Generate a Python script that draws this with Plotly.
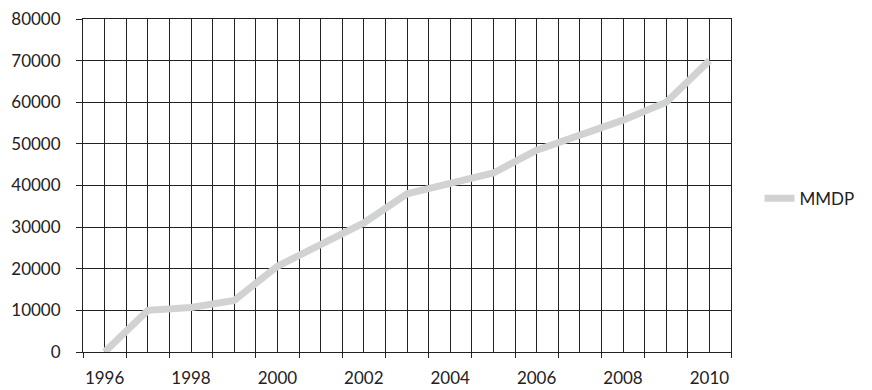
import plotly.graph_objects as go

# Annual series
years = [1996, 1997, 1998, 1999, 2000, 2001, 2002, 2003,
         2004, 2005, 2006, 2007, 2008, 2009, 2010]
mmdp = [0, 10000, 10700, 12400, 20600, 26000, 31000, 38000,
        40300, 43000, 48500, 52000, 55700, 60000, 70000]

label_years = [1996, 1998, 2000, 2002, 2004, 2006, 2008, 2010]
y_ticks = [0, 10000, 20000, 30000, 40000, 50000, 60000, 70000, 80000]

x_range = [1995.5, 2010.5]
ink = "#222222"
font = dict(family="Lato, 'Open Sans', sans-serif", size=17, color=ink)

fig = go.Figure()
fig.add_trace(go.Scatter(
    x=years, y=mmdp, mode="lines", name="MMDP",
    line=dict(color="#d1d2d4", width=7),
    xaxis="x", yaxis="y",
))
# helper trace that carries the tick/grid axis
fig.add_trace(go.Scatter(
    x=years, y=mmdp, mode="lines", showlegend=False,
    line=dict(color="rgba(0,0,0,0)", width=0), hoverinfo="skip",
    xaxis="x2", yaxis="y",
))

fig.update_layout(
    width=872, height=390,
    margin=dict(l=83, r=129, t=19, b=38),
    paper_bgcolor="white", plot_bgcolor="white",
    font=font,
    showlegend=True,
    legend=dict(x=1.044, xanchor="left", y=0.46, yanchor="middle",
                font=font, bgcolor="rgba(0,0,0,0)", borderwidth=0),
    xaxis=dict(
        range=x_range, tickmode="array", tickvals=label_years,
        ticktext=[str(v) for v in label_years],
        ticks="", showgrid=False, zeroline=False,
        showline=False, ticklabelstandoff=14, layer="above traces",
        automargin=False,
    ),
    xaxis2=dict(
        overlaying="x", anchor="y", side="bottom",
        range=x_range, tickmode="linear", tick0=1995.5, dtick=1,
        showticklabels=False, ticks="outside", ticklen=5, tickcolor=ink,
        tickwidth=1,
        showgrid=True, gridcolor=ink, gridwidth=1,
        minor=dict(tick0=1995.5, dtick=0.5, showgrid=True,
                   gridcolor=ink, gridwidth=1, ticks=""),
        showline=True, linecolor=ink, linewidth=1, mirror=True,
        zeroline=False, automargin=False,
    ),
    yaxis=dict(
        range=[0, 80000], tickmode="array", tickvals=y_ticks,
        ticktext=[str(v) for v in y_ticks],
        ticks="outside", ticklen=6, tickcolor=ink, tickwidth=1,
        showgrid=True, gridcolor=ink, gridwidth=1,
        showline=True, linecolor=ink, linewidth=1, mirror=True,
        zeroline=False, ticklabelstandoff=12, automargin=False,
    ),
)

fig.write_html("out.html")
